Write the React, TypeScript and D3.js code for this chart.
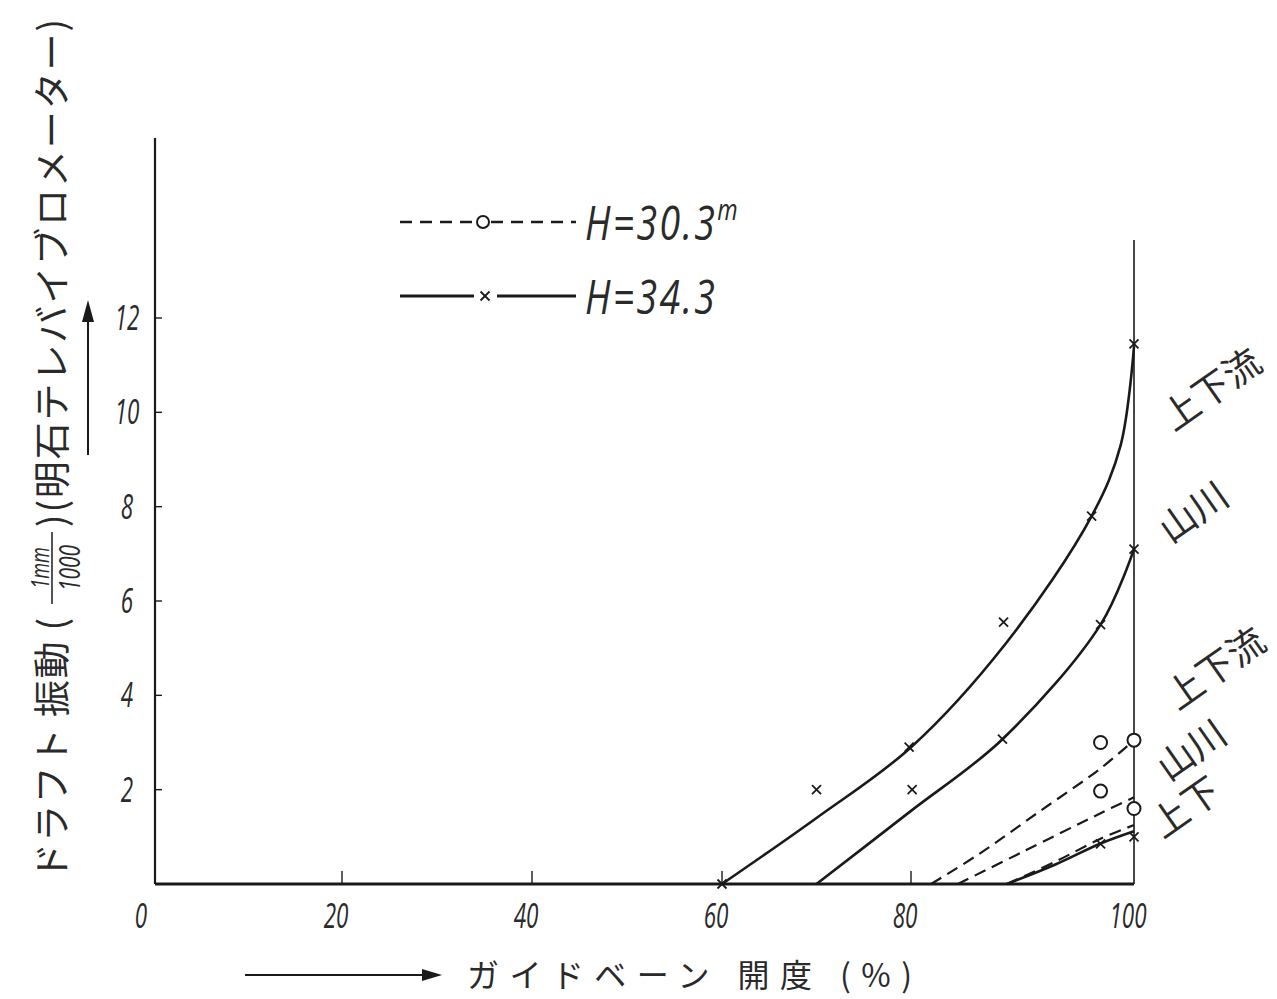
import * as d3 from "d3";

// guide vane opening (%) -> draft vibration (1/1000 mm)
const xTicks = [0, 20, 40, 60, 80, 100];
const yTicks = [2, 4, 6, 8, 10, 12];

// H = 34.3 m (solid)
const upper343 = [[60, 0], [70, 1.4], [80, 2.9], [88.5, 5.1], [96.2, 7.8], [98.8, 9.3], [100, 11.4]];
const mid343 = [[70, 0], [80, 1.55], [88.2, 3.07], [97, 5.5], [100, 7.1]];
const low343 = [[88.6, 0], [93, 0.42], [97, 0.86], [100, 1.12]];
// H = 30.3 m (dashed)
const upper303 = [[81.8, 0], [86, 0.62], [91.6, 1.55], [97, 2.45], [100, 3.05]];
const mid303 = [[84.2, 0], [90, 0.68], [97, 1.5], [100, 1.84]];
const low303 = [[88.6, 0], [93, 0.48], [97, 0.96], [100, 1.25]];

const marks343 = [[60, 0], [70, 2.0], [79.8, 2.9], [88.3, 5.55], [96.2, 7.8], [100, 11.45], [80.1, 2.0], [88.2, 3.07], [97, 5.5], [100, 7.1], [97, 0.85], [100, 1.0]];
const marks303 = [[97, 3.0], [100, 3.05], [97, 1.97], [100, 1.6]];

const sideLabels = ["上下流", "山川", "上下流", "山川", "上下"];

const ink = "#1a1a1a";
const textInk = "#2a2a2a";
const numFont = "'Open Sans', 'DejaVu Sans', sans-serif";
const jpFont = "'Noto Sans CJK JP', sans-serif";

// narrow italic lettering like the drawing's stencil numerals
function Num({ x, y, size = 34, sx = 0.66, anchor = "middle", children }: any) {
  return (
    <text
      transform={`translate(${x},${y}) scale(${sx},1)`}
      textAnchor={anchor}
      fontFamily={numFont}
      fontStyle="italic"
      fontSize={size}
      fill={textInk}
    >
      {children}
    </text>
  );
}

export default function App() {
  const width = 1277;
  const height = 999;

  // the hand drawn grid is not quite even, so the scale follows the printed ticks
  const x = d3.scaleLinear().domain(xTicks).range([155, 342, 532, 722, 911, 1134]);
  const y = d3.scaleLinear().domain([0, 12]).range([884, 318]);

  const line = d3
    .line<number[]>()
    .x((d) => x(d[0]))
    .y((d) => y(d[1]))
    .curve(d3.curveCatmullRom.alpha(0.5));

  const cross = (cx: number, cy: number, key: string) => (
    <g key={key} stroke={ink} strokeWidth={1.8}>
      <line x1={cx - 4.5} y1={cy - 4.5} x2={cx + 4.5} y2={cy + 4.5} />
      <line x1={cx - 4.5} y1={cy + 4.5} x2={cx + 4.5} y2={cy - 4.5} />
    </g>
  );

  return (
    <svg
      width={width}
      height={height}
      style={{ position: "absolute", left: 0, top: 0, background: "#fff" }}
    >
      {/* axes */}
      <line x1={x(0)} y1={138} x2={x(0)} y2={y(0)} stroke={ink} strokeWidth={2.2} />
      <line x1={x(100)} y1={240} x2={x(100)} y2={y(0)} stroke={ink} strokeWidth={1.6} />
      <line x1={x(0)} y1={y(0)} x2={x(100)} y2={y(0)} stroke={ink} strokeWidth={3} />
      {yTicks.map((t) => (
        <g key={t}>
          <line x1={x(0)} y1={y(t)} x2={x(0) + 7} y2={y(t)} stroke={ink} strokeWidth={1.4} />
          <Num x={127} y={y(t) + 12}>{t}</Num>
        </g>
      ))}
      {xTicks.map((t, i) => (
        <g key={t}>
          {i > 0 && i < xTicks.length - 1 && (
            <line x1={x(t)} y1={y(0)} x2={x(t)} y2={y(0) - 13} stroke={ink} strokeWidth={1.4} />
          )}
          <Num x={x(t) - (t === 0 ? 14 : 6)} y={928}>{t}</Num>
        </g>
      ))}

      {/* curves */}
      {[upper343, mid343, low343].map((d, i) => (
        <path key={"s" + i} d={line(d) ?? ""} fill="none" stroke={ink} strokeWidth={2.6} />
      ))}
      {[upper303, mid303, low303].map((d, i) => (
        <path
          key={"d" + i}
          d={line(d) ?? ""}
          fill="none"
          stroke={ink}
          strokeWidth={2.2}
          strokeDasharray="12 7"
        />
      ))}
      {marks343.map((d, i) => cross(x(d[0]), y(d[1]), "x" + i))}
      {marks303.map((d, i) => (
        <circle key={"o" + i} cx={x(d[0])} cy={y(d[1])} r={6.5} fill="#fff" stroke={ink} strokeWidth={2} />
      ))}

      {/* legend */}
      <line x1={400} y1={222} x2={476} y2={222} stroke={ink} strokeWidth={2.4} strokeDasharray="12 8" />
      <circle cx={483} cy={222} r={6} fill="#fff" stroke={ink} strokeWidth={2} />
      <line x1={491} y1={222} x2={576} y2={222} stroke={ink} strokeWidth={2.4} strokeDasharray="12 8" />
      <Num x={585} y={240} size={48} sx={0.78} anchor="start">
        <tspan letterSpacing={3}>H=30.3</tspan>
        <tspan dy={-20} fontSize={30}>m</tspan>
      </Num>
      <line x1={400} y1={296} x2={474} y2={296} stroke={ink} strokeWidth={2.8} />
      {cross(485, 296, "legend")}
      <line x1={497} y1={296} x2={576} y2={296} stroke={ink} strokeWidth={2.8} />
      <Num x={585} y={314} size={48} sx={0.78} anchor="start">
        <tspan letterSpacing={3}>H=34.3</tspan>
      </Num>

      {/* right-hand labels */}
      {[
        [1210, 387],
        [1192, 510],
        [1214, 666],
        [1190, 748],
        [1184, 805],
      ].map(([lx, ly], i) => (
        <text
          key={i}
          transform={`translate(${lx},${ly}) rotate(-35)`}
          textAnchor="middle"
          dominantBaseline="central"
          fontFamily={jpFont}
          fontSize={37}
          fill={textInk}
        >
          {sideLabels[i]}
        </text>
      ))}

      {/* y axis title */}
      <g transform="translate(50,0) rotate(-90)" fontFamily={jpFont} fill={textInk}>
        <text x={-880} y={0} dominantBaseline="central" fontSize={37} textLength={262} lengthAdjust="spacing">
          ドラフト 振動 (
        </text>
        <g transform="translate(-568,-11) scale(0.7,1)">
          <text textAnchor="middle" dominantBaseline="central" fontFamily={numFont} fontStyle="italic" fontSize={26}>
            1mm
          </text>
        </g>
        <line x1={-604} y1={2} x2={-532} y2={2} stroke={textInk} strokeWidth={1.6} />
        <g transform="translate(-568,18) scale(0.7,1)">
          <text textAnchor="middle" dominantBaseline="central" fontFamily={numFont} fontStyle="italic" fontSize={30}>
            1000
          </text>
        </g>
        <text x={-527} y={0} dominantBaseline="central" fontSize={37} textLength={508} lengthAdjust="spacing">
          )(明石テレバイブロメーター)
        </text>
      </g>
      <line x1={88} y1={455} x2={88} y2={318} stroke={ink} strokeWidth={2} />
      <path d="M88,300 L82,322 L94,322 Z" fill={ink} />

      {/* x axis title */}
      <line x1={245} y1={975} x2={425} y2={975} stroke={ink} strokeWidth={1.8} />
      <path d="M442,975 L422,969 L422,981 Z" fill={ink} />
      <text x={467} y={973} dominantBaseline="central" fontFamily={jpFont} fontSize={32} fill={textInk} textLength={445} lengthAdjust="spacing">
        ガイドベーン 開度 (%)
      </text>
    </svg>
  );
}
